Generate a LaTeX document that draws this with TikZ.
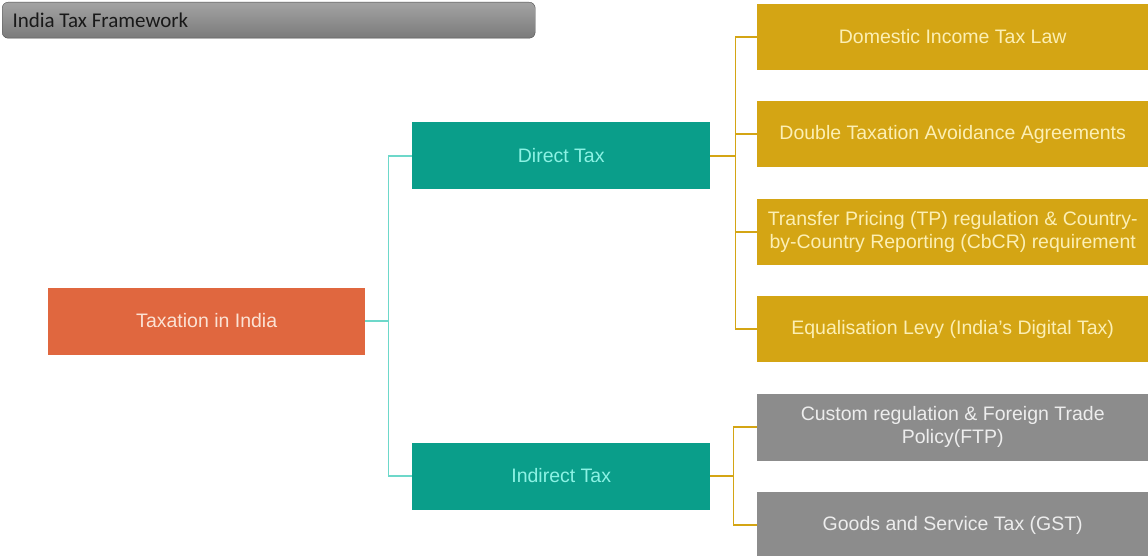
\documentclass[tikz,border=0pt]{standalone}
\usepackage{fontspec}
\setmainfont{Liberation Sans}
\newfontfamily\headfont{Carlito}
\usetikzlibrary{positioning}

\definecolor{taxred}{HTML}{E0673F}
\definecolor{taxredtext}{HTML}{FBE2D4}
\definecolor{taxteal}{HTML}{0A9E8A}
\definecolor{taxtealtext}{HTML}{8CF2E4}
\definecolor{tealline}{HTML}{6DD8CA}
\definecolor{taxgold}{HTML}{D4A514}
\definecolor{taxgoldtext}{HTML}{FCEFB4}
\definecolor{taxgray}{HTML}{8C8C8C}
\definecolor{taxgraytext}{HTML}{EDEDED}

\tikzset{
  box/.style={anchor=west, inner sep=0pt, minimum height=67pt, align=center,
    font=\fontsize{19.5}{22.5}\selectfont},
  rootbox/.style={box, fill=taxred, text=taxredtext, minimum width=317pt},
  taxbox/.style={box, fill=taxteal, text=taxtealtext, minimum width=298pt},
  lawbox/.style={box, fill=taxgold, text=taxgoldtext, minimum width=391pt, minimum height=66pt},
  tradebox/.style={box, fill=taxgray, text=taxgraytext, minimum width=391pt},
  tline/.style={tealline, line width=1.8pt},
  gline/.style={taxgold, line width=1.2pt}
}

\begin{document}
\begin{tikzpicture}[x=1pt, y=1pt]
  \useasboundingbox (0,0) rectangle (1148,-556);

  % header bar
  \node[draw=black!70, rounded corners=6pt, top color=black!36, bottom color=black!52,
        minimum width=533pt, minimum height=36pt, anchor=north west, inner sep=0pt]
        (head) at (2,-2) {};
  \node[anchor=west, font=\headfont\fontsize{21}{24}\selectfont, text=black!90]
        (headtext) at (9,-20) {India Tax Framework};

  % boxes
  \node[rootbox] (root) at (48,-321) {Taxation in India};
  \node[taxbox] (direct) at (412,-156) {Direct Tax};
  \node[taxbox] (indirect) at (412,-476) {Indirect Tax};

  \node[lawbox] (dom) at (757,-37) {Domestic Income Tax Law};
  \node[lawbox] (dtaa) at (757,-134) {Double Taxation Avoidance Agreements};
  \node[lawbox] (tp) at (757,-232) {Transfer Pricing (TP) regulation \& Country-\\by-Country Reporting (CbCR) requirement};
  \node[lawbox] (levy) at (757,-329) {Equalisation Levy (India's Digital Tax)};

  \node[tradebox] (ftp) at (757,-427) {Custom regulation \& Foreign Trade\\Policy(FTP)};
  \node[tradebox] (gst) at (757,-525) {Goods and Service Tax (GST)};

  % connectors
  \draw[tline] (root.east) -- ++(23,0) coordinate (rj);
  \draw[tline] (rj) |- (direct.west);
  \draw[tline] (rj) |- (indirect.west);

  \draw[gline] (direct.east) -- ++(25,0) coordinate (dj);
  \draw[gline] (dj) |- (dom.west);
  \draw[gline] (dj) |- (dtaa.west);
  \draw[gline] (dj) |- (tp.west);
  \draw[gline] (dj) |- (levy.west);

  \draw[gline] (indirect.east) -- ++(23,0) coordinate (ij);
  \draw[gline] (ij) |- (ftp.west);
  \draw[gline] (ij) |- (gst.west);
\end{tikzpicture}
\end{document}
